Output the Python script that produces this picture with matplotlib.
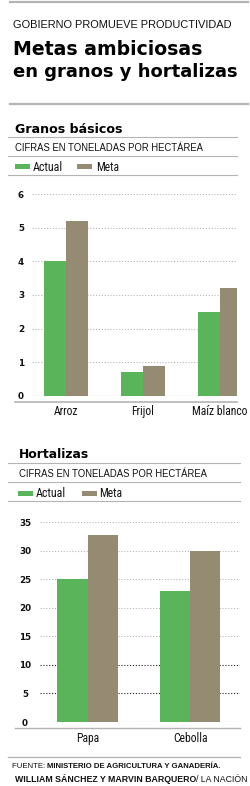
import os
import matplotlib
matplotlib.use('Agg')
import matplotlib.pyplot as plt
from matplotlib import font_manager
from matplotlib.font_manager import FontProperties
from matplotlib.patches import Rectangle
from matplotlib.lines import Line2D
import numpy as np

# ---------------- data ----------------
granos_cats = ['Arroz', 'Frijol', 'Maíz blanco']
granos_actual = [4.0, 0.7, 2.5]
granos_meta = [5.2, 0.9, 3.2]
granos_ticks = [0, 1, 2, 3, 4, 5, 6]

hort_cats = ['Papa', 'Cebolla']
hort_actual = [25, 23]
hort_meta = [32.7, 30]
hort_ticks = [0, 5, 10, 15, 20, 25, 30, 35]

GREEN = '#5ab55a'
BROWN = '#958a72'
SEP = '#b4b4b4'

W, H = 250, 786
fig = plt.figure(figsize=(W / 100, H / 100), dpi=100)
fig.patch.set_facecolor('white')


def find_narrow():
    prefs = ['liberationsansnarrow', 'arialnarrow', 'robotocondensed', 'opensanscondensed',
             'notosanscondensed', 'dejavusanscondensed']
    best = None
    for f in font_manager.fontManager.ttflist:
        norm = os.path.basename(f.fname).lower().replace('-', '').replace('_', '').replace(' ', '')
        if any(k in norm for k in ('italic', 'oblique', 'bold', 'light', 'thin', 'medium',
                                   'black', 'semi', 'extra')):
            continue
        for i, p in enumerate(prefs):
            if norm.startswith(p):
                if best is None or i < best[0]:
                    best = (i, f.fname)
                break
    if best is None:
        return FontProperties(family='Liberation Sans')
    return FontProperties(fname=best[1])


NARROW = find_narrow()
REG = FontProperties(family='Liberation Sans', weight='normal')
BLD = FontProperties(family='Liberation Sans', weight='bold')
BOLDF = FontProperties(family='DejaVu Sans', weight='bold')

renderer = fig.canvas.get_renderer()


def fx(x):
    return x / W


def fy(y):
    return 1 - y / H


def text_width(s, fp, size):
    t = fig.text(0, 0, s, fontproperties=fp.copy())
    t.set_fontsize(size)
    w = t.get_window_extent(renderer).width
    t.remove()
    return w


def put(x, y, s, width=None, size=10, fp=REG, ha='left', color='#111111'):
    t = fig.text(fx(x), fy(y), s, fontproperties=fp.copy(), ha=ha, va='baseline', color=color)
    t.set_fontsize(size)
    if width:
        w = t.get_window_extent(renderer).width
        t.set_fontsize(size * width / w)
    return t


def put_mixed(x, y, parts, width, size=8):
    texts = []
    for s, fp in parts:
        t = fig.text(0, 0, s, fontproperties=fp.copy(), va='baseline', color='#111111')
        t.set_fontsize(size)
        texts.append(t)
    tot = sum(t.get_window_extent(renderer).width for t in texts)
    ns = size * width / tot
    cx = x
    for t in texts:
        t.set_fontsize(ns)
        t.set_position((fx(cx), fy(y)))
        cx += t.get_window_extent(renderer).width


def hline(y, x0, x1, color=SEP, lw=0.8):
    fig.add_artist(Line2D([fx(x0), fx(x1)], [fy(y), fy(y)], color=color, lw=lw,
                          transform=fig.transFigure))


def swatch(x0, x1, y0, y1, color):
    fig.add_artist(Rectangle((fx(x0), fy(y1)), (x1 - x0) / W, (y1 - y0) / H,
                             facecolor=color, edgecolor='none', transform=fig.transFigure))


# x-label size: "Maíz blanco" spans ~56 px in the reference
XLAB = min(9.0, 10 * 56 / text_width('Maíz blanco', NARROW, 10))

# ---------------- header ----------------
hline(2, 10, 248, SEP, 1.6)
put(13, 28, 'GOBIERNO PROMUEVE PRODUCTIVIDAD', width=219)
put(13, 55, 'Metas ambiciosas', width=189, fp=BOLDF, color='black')
put(13, 77, 'en granos y hortalizas', width=227, fp=BOLDF, color='black')
hline(104, 10, 248, SEP, 1.6)


def section(title, ytitle, yl1, ycif, yl2, yl3, xt, sw, xend):
    put(xt, ytitle, title, width=sw, fp=BOLDF, color='black')
    hline(yl1, 8, xend)
    put(xt, ycif, 'CIFRAS EN TONELADAS POR HECTÁREA', width=189)
    hline(yl2, 8, xend)
    hline(yl3, 8, xend)


def bars_axes(l, r, y0, ytop, cats, actual, meta, ticks, dark, bw, xl, xr, pad_y, pad_x):
    ax = fig.add_axes([fx(l), fy(y0), (r - l) / W, (y0 - ytop) / H])
    x = np.arange(len(cats))
    ax.bar(x - bw / 2, actual, width=bw, color=GREEN, zorder=2, linewidth=0)
    ax.bar(x + bw / 2, meta, width=bw, color=BROWN, zorder=2, linewidth=0)
    for t in ticks:
        ax.axhline(t, color='#222222' if t in dark else '#b8b8b8', lw=0.8,
                   ls=(0, (1, 1.6)), zorder=1)
    ax.set_xlim(xl, xr)
    ax.set_ylim(0, ticks[-1])
    ax.set_yticks(ticks)
    ax.set_yticklabels([str(t) for t in ticks], fontfamily='DejaVu Sans',
                       fontweight='bold', fontsize=6.3, color='#111111')
    for lb in ax.get_yticklabels():
        lb.set_ha('center')
    ax.set_xticks(x)
    ax.set_xticklabels(cats, color='#111111')
    for lb in ax.get_xticklabels():
        lb.set_fontproperties(NARROW.copy())
        lb.set_fontsize(XLAB)
    ax.tick_params(axis='y', length=0, pad=pad_y)
    ax.tick_params(axis='x', length=0, pad=pad_x)
    for s in ax.spines.values():
        s.set_visible(False)
    ax.patch.set_alpha(0)
    return ax


# ---------------- Granos básicos ----------------
section('Granos básicos', 133, 137, 151, 156, 175, 15, 108, 237)
swatch(15, 30, 164, 169, GREEN)
put(33, 171, 'Actual', width=30, fp=NARROW)
swatch(77, 92, 164, 169, BROWN)
put(96, 171, 'Meta', width=23, fp=NARROW)

bars_axes(32, 237, 396, 194, granos_cats, granos_actual, granos_meta, granos_ticks,
          dark={0}, bw=0.286, xl=-(66 - 32) / 77, xr=2 + (237 - 219.5) / 77,
          pad_y=7.9, pad_x=6.8)
hline(402, 15, 237, SEP, 1.2)

# ---------------- Hortalizas ----------------
section('Hortalizas', 458, 463, 477, 482, 501, 19, 71, 240)
swatch(18, 33, 491, 496, GREEN)
put(36, 497, 'Actual', width=30, fp=NARROW)
swatch(82, 97, 491, 496, BROWN)
put(99, 497, 'Meta', width=23, fp=NARROW)

bars_axes(40, 240, 722, 522, hort_cats, hort_actual, hort_meta, hort_ticks,
          dark={0, 5, 10}, bw=0.293, xl=-(87.5 - 40) / 102.5, xr=1 + (240 - 190) / 102.5,
          pad_y=10.8, pad_x=7.5)
hline(728, 15, 240, SEP, 1.0)

# ---------------- footer ----------------
hline(757, 8, 240, SEP, 1.0)
put_mixed(12, 768, [('FUENTE: ', REG), ('MINISTERIO DE AGRICULTURA Y GANADERÍA.', BLD)], 210)
put_mixed(15, 782, [('WILLIAM SÁNCHEZ Y MARVIN BARQUERO', BLD), ('/ LA NACIÓN', REG)], 233)

fig.savefig('out.png', dpi=100, facecolor='white')
